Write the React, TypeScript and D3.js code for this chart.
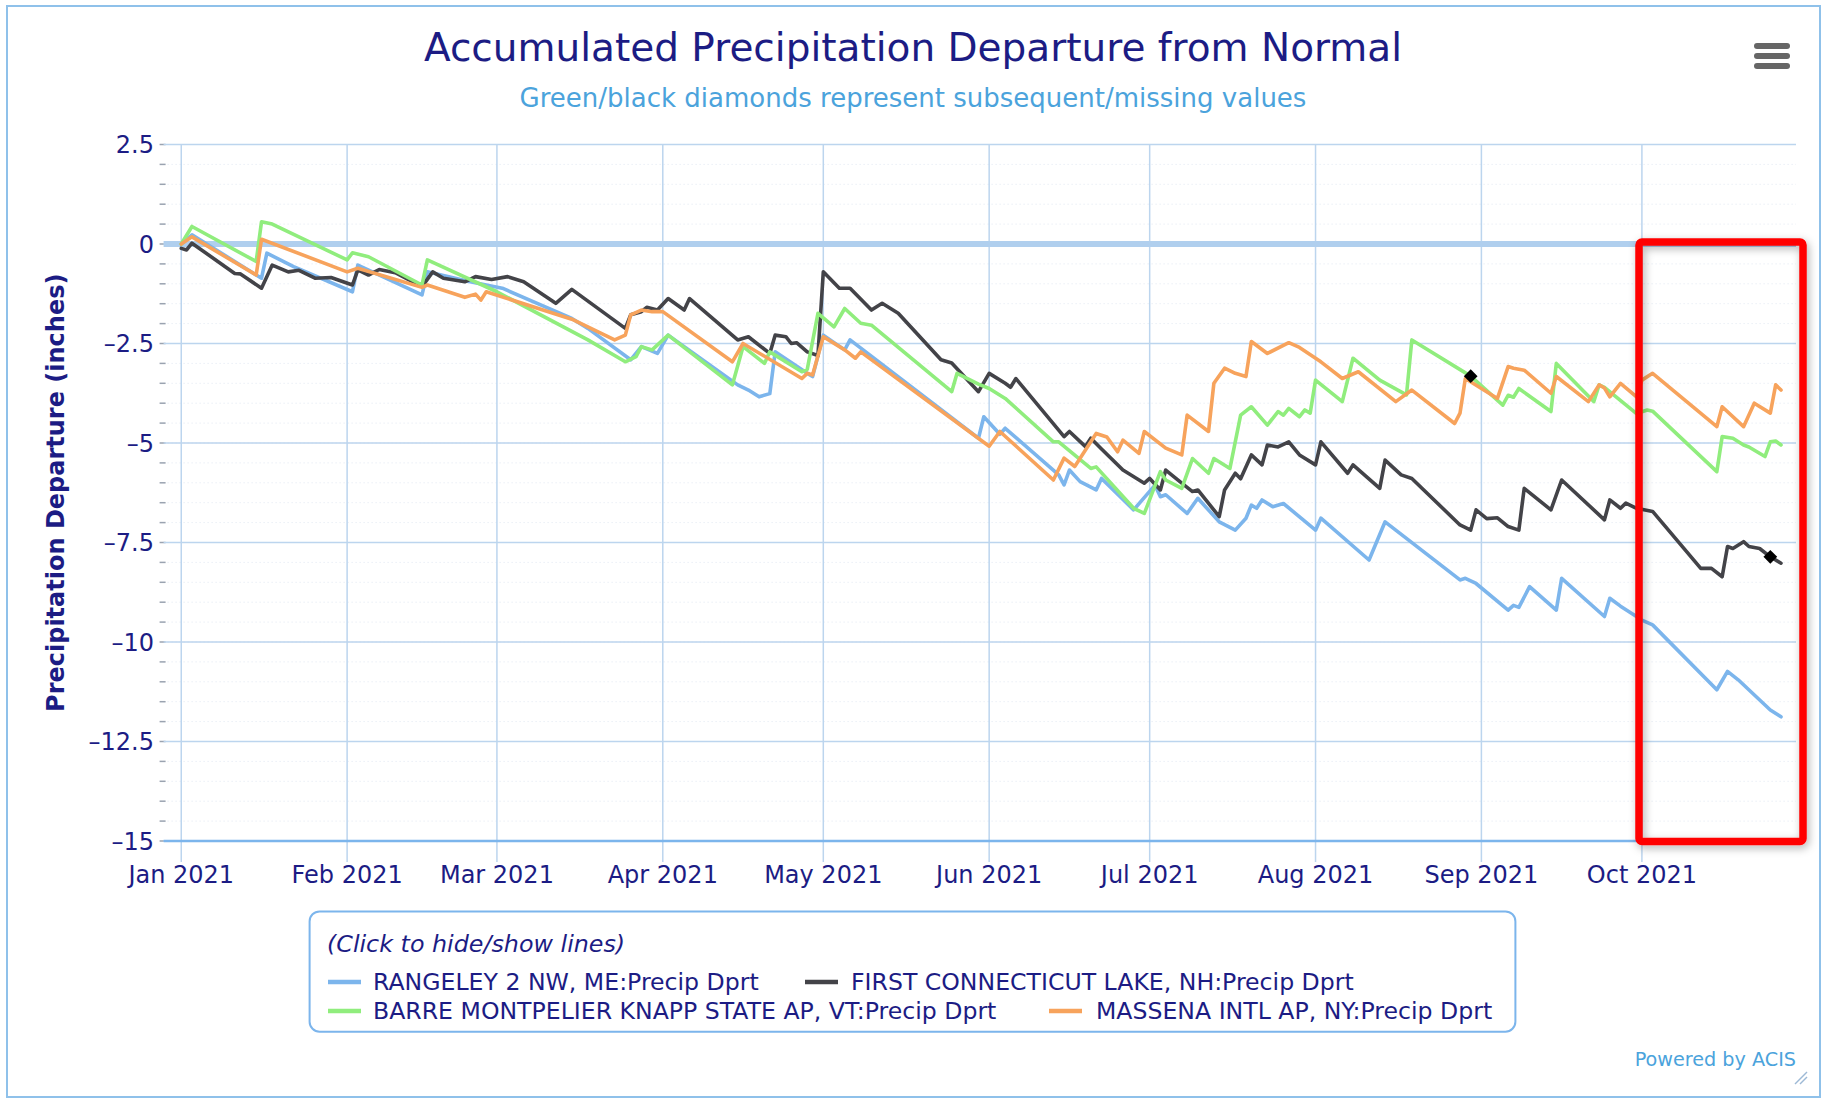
import React from 'react';
import * as d3 from 'd3';

// ---------- data ----------
const seriesNames = [
  'RANGELEY 2 NW, ME:Precip Dprt',
  'FIRST CONNECTICUT LAKE, NH:Precip Dprt',
  'BARRE MONTPELIER KNAPP STATE AP, VT:Precip Dprt',
  'MASSENA INTL AP, NY:Precip Dprt',
];
const seriesColors = ['#7cb5ec', '#434348', '#90ed7d', '#f7a35c'];

// [day offset from 2021-01-01, departure in inches]
const rangeley: [number, number][] = [
  [0, 0.0], [2, 0.23], [15, -0.86], [16, -0.23], [21, -0.57], [32, -1.2], [33, -0.53], [45, -1.28], [46, -0.7],
  [54, -0.95], [60, -1.11], [73, -1.87], [76, -2.12], [84, -2.91], [86, -2.58], [89, -2.75], [91, -2.29],
  [104, -3.54], [106, -3.67], [108, -3.84], [110, -3.76], [111, -2.71], [117, -3.25], [118, -3.33], [120, -2.29],
  [124, -2.66], [125, -2.41], [149, -4.88], [150, -4.34], [153, -4.78], [154, -4.63], [164, -5.8], [165, -6.05],
  [166, -5.68], [168, -5.97], [171, -6.18], [172, -5.89], [178, -6.68], [182, -6.06], [183, -6.35], [184, -6.3],
  [188, -6.77], [190, -6.39], [194, -6.98], [197, -7.19], [199, -6.89], [200, -6.56], [201, -6.64], [202, -6.43],
  [204, -6.6], [206, -6.52], [212, -7.19], [213, -6.89], [222, -7.94], [225, -6.98], [239, -8.44], [240, -8.4],
  [242, -8.53], [248, -9.2], [249, -9.08], [250, -9.13], [252, -8.61], [257, -9.2], [258, -8.4], [266, -9.36],
  [267, -8.9], [269, -9.1], [273, -9.45], [275, -9.57], [287, -11.2], [289, -10.74], [291, -10.95], [297, -11.71],
  [299, -11.88],
];
const connecticut: [number, number][] = [
  [0, -0.11], [1, -0.15], [2, 0.02], [10, -0.74], [11, -0.75], [15, -1.11], [17, -0.53], [20, -0.7], [22, -0.66],
  [25, -0.86], [28, -0.84], [32, -1.03], [33, -0.65], [35, -0.78], [37, -0.64], [40, -0.72], [45, -1.07],
  [47, -0.7], [49, -0.86], [53, -0.95], [55, -0.82], [58, -0.89], [61, -0.82], [64, -0.95], [70, -1.49],
  [73, -1.14], [83, -2.12], [84, -1.78], [86, -1.7], [87, -1.59], [89, -1.66], [91, -1.37], [94, -1.66],
  [95, -1.37], [104, -2.41], [106, -2.33], [110, -2.75], [111, -2.29], [113, -2.33], [114, -2.5], [115, -2.48],
  [117, -2.71], [119, -2.8], [120, -0.7], [123, -1.11], [125, -1.11], [129, -1.66], [131, -1.49], [134, -1.74],
  [142, -2.91], [144, -2.99], [149, -3.71], [151, -3.25], [154, -3.5], [155, -3.6], [156, -3.38], [165, -4.84],
  [166, -4.71], [169, -5.09], [170, -4.88], [172, -5.15], [176, -5.68], [180, -6.01], [181, -5.89], [183, -6.18],
  [184, -5.68], [187, -6.01], [189, -6.22], [190, -6.18], [194, -6.85], [195, -6.18], [197, -5.76], [198, -5.9],
  [200, -5.3], [202, -5.55], [203, -5.05], [205, -5.1], [207, -4.97], [209, -5.3], [212, -5.55], [213, -4.97],
  [218, -5.76], [219, -5.55], [224, -6.14], [225, -5.43], [228, -5.8], [230, -5.89], [239, -7.06], [241, -7.19],
  [242, -6.68], [244, -6.9], [246, -6.88], [248, -7.1], [250, -7.19], [251, -6.14], [256, -6.68], [258, -5.93],
  [266, -6.93], [267, -6.43], [269, -6.64], [270, -6.51], [272, -6.64], [275, -6.72], [284, -8.15], [286, -8.15],
  [288, -8.36], [289, -7.6], [290, -7.65], [292, -7.48], [293, -7.6], [295, -7.65], [297, -7.86], [299, -8.02],
];
const barre: [number, number][] = [
  [0, 0.0], [2, 0.44], [14, -0.44], [15, 0.56], [17, 0.5], [31, -0.4], [32, -0.22], [35, -0.32], [45, -1.03],
  [46, -0.4], [59, -1.2], [76, -2.41], [83, -2.96], [85, -2.83], [86, -2.58], [88, -2.66], [91, -2.29],
  [103, -3.54], [105, -2.58], [109, -3.0], [110, -2.71], [116, -3.21], [117, -3.15], [119, -1.74], [122, -2.08],
  [124, -1.62], [127, -1.99], [129, -2.04], [144, -3.71], [145, -3.25], [149, -3.52], [151, -3.63], [154, -3.88],
  [163, -4.97], [164, -4.97], [170, -5.64], [171, -5.6], [178, -6.64], [180, -6.77], [183, -5.72], [184, -5.93],
  [187, -6.14], [189, -5.39], [192, -5.76], [193, -5.39], [196, -5.64], [198, -4.3], [200, -4.09], [203, -4.55],
  [205, -4.21], [206, -4.3], [207, -4.13], [209, -4.34], [210, -4.17], [211, -4.25], [212, -3.42], [217, -3.96],
  [219, -2.87], [224, -3.42], [229, -3.79], [230, -2.41], [241, -3.32], [247, -4.05], [248, -3.8], [249, -3.85],
  [250, -3.63], [256, -4.21], [257, -3.0], [264, -3.96], [265, -3.54], [266, -3.6], [272, -4.26], [274, -4.17],
  [275, -4.2], [287, -5.72], [288, -4.84], [290, -4.88], [292, -5.05], [293, -5.1], [296, -5.34], [297, -4.97],
  [298, -4.95], [299, -5.05],
];
const massena: [number, number][] = [
  [0, 0.0], [2, 0.18], [14, -0.78], [15, 0.12], [31, -0.7], [33, -0.61], [45, -1.09], [46, -1.03], [53, -1.34],
  [55, -1.26], [56, -1.41], [57, -1.2], [73, -1.89], [81, -2.41], [83, -2.29], [84, -1.78], [86, -1.66],
  [88, -1.7], [90, -1.7], [103, -2.96], [105, -2.5], [116, -3.38], [117, -3.25], [118, -3.29], [120, -2.33],
  [124, -2.66], [126, -2.87], [127, -2.71], [151, -5.08], [153, -4.71], [163, -5.93], [165, -5.38], [167, -5.59],
  [171, -4.76], [173, -4.85], [175, -5.22], [176, -4.93], [179, -5.26], [180, -4.71], [184, -5.13], [187, -5.3],
  [188, -4.3], [192, -4.71], [193, -3.5], [195, -3.12], [197, -3.25], [199, -3.33], [200, -2.45], [203, -2.75],
  [207, -2.48], [209, -2.6], [213, -2.96], [217, -3.38], [220, -3.21], [227, -3.96], [230, -3.67], [238, -4.51],
  [239, -4.25], [240, -3.38], [246, -3.88], [248, -3.08], [249, -3.12], [251, -3.17], [256, -3.75], [257, -3.33],
  [263, -3.96], [265, -3.54], [266, -3.62], [267, -3.84], [269, -3.5], [272, -3.84], [273, -3.42], [275, -3.25],
  [287, -4.59], [288, -4.09], [292, -4.59], [294, -4.0], [297, -4.25], [298, -3.54], [299, -3.67],
];
const seriesData = [rangeley, connecticut, barre, massena];

// missing-value diamonds [day, value]
const diamonds: [number, number][] = [[241, -3.32], [297, -7.86]];

const yTicks = [2.5, 0, -2.5, -5, -7.5, -10, -12.5, -15];
const yMinorTicks = d3.range(2.5, -15.01, -0.5);

// ---------- layout ----------
const W = 1832;
const H = 1108;
const plotLeft = 163.6;
const plotRight = 1796;
const plotTop = 144.5;
const plotBottom = 841;
const NAVY = '#1c1c84';
const LIGHT = '#4ba3dc';
const FONT = 'DejaVu Sans';

const start = Date.UTC(2021, 0, 1);
const toDate = (d: number) => d3.utcDay.offset(new Date(start), d);

const x = d3
  .scaleUtc()
  .domain([new Date(start - 3.3 * 864e5), new Date(start + 301.8 * 864e5)])
  .range([plotLeft, plotRight]);
const y = d3.scaleLinear().domain([-15, 2.5]).range([plotBottom, plotTop]);
const monthTicks = d3.utcMonth.range(new Date(start), new Date(Date.UTC(2021, 10, 1)));
const fmt = d3.utcFormat('%b %Y');
const yFmt = (t: number) => (t < 0 ? '\u2013' + String(-t) : String(t));

const line = d3
  .line<[number, number]>()
  .x((p) => x(toDate(p[0])))
  .y((p) => y(p[1]));

const legendItems = [
  { idx: 0, sx: 328, tx: 373, row: 0 },
  { idx: 1, sx: 805, tx: 851, row: 0 },
  { idx: 2, sx: 328, tx: 373, row: 1 },
  { idx: 3, sx: 1049, tx: 1096, row: 1 },
];
const legendRowY = [982, 1011];

export default function App() {
  return (
    <svg
      width={W}
      height={H}
      style={{ position: 'absolute', left: 0, top: 0, background: '#fff' }}
      fontFamily={FONT}
    >
      <defs>
        <filter id="shadow" x="-20%" y="-10%" width="140%" height="120%">
          <feDropShadow dx="2" dy="3" stdDeviation="4" floodColor="#000" floodOpacity="0.3" />
        </filter>
      </defs>
      <rect x={0} y={0} width={W} height={H} fill="#fff" />
      <rect x={7} y={6} width={1813} height={1091} fill="#fff" stroke="#8fc1ea" strokeWidth={2} />

      {/* title */}
      <text x={913} y={61} textAnchor="middle" fontSize={39} fill={NAVY}>
        Accumulated Precipitation Departure from Normal
      </text>
      <text x={913} y={107} textAnchor="middle" fontSize={26} fill={LIGHT}>
        Green/black diamonds represent subsequent/missing values
      </text>

      {/* menu */}
      {[46, 56, 66].map((yy) => (
        <line key={yy} x1={1757} x2={1787} y1={yy} y2={yy} stroke="#666" strokeWidth={6} strokeLinecap="round" />
      ))}

      {/* minor grid */}
      {yMinorTicks.map((t) => (
        <g key={'m' + t}>
          <line x1={plotLeft} x2={plotRight} y1={y(t)} y2={y(t)} stroke="#dfe7f1" strokeWidth={1} strokeDasharray="1,3" />
          <line x1={plotLeft - 4} x2={plotLeft + 2} y1={y(t)} y2={y(t)} stroke="#9aa3b0" strokeWidth={1.5} />
        </g>
      ))}

      {/* vertical month grid */}
      {monthTicks.map((m) => (
        <line key={+m} x1={x(m)} x2={x(m)} y1={plotTop} y2={862} stroke="#bcd5ee" strokeWidth={1.5} />
      ))}

      {/* major horizontal grid */}
      {yTicks.map((t) => (
        <line key={'g' + t} x1={plotLeft} x2={plotRight} y1={y(t)} y2={y(t)} stroke="#bcd5ee" strokeWidth={1.5} />
      ))}
      <line x1={plotLeft} x2={plotRight} y1={y(0)} y2={y(0)} stroke="#b0cfee" strokeWidth={6} />
      <line x1={plotLeft} x2={plotRight} y1={y(-15)} y2={y(-15)} stroke="#7cb5ec" strokeWidth={2.5} />

      {/* y labels */}
      {yTicks.map((t) => (
        <text key={'yl' + t} x={154} y={y(t)} dy="0.36em" textAnchor="end" fontSize={24} fill={NAVY}>
          {yFmt(t)}
        </text>
      ))}
      {/* x labels */}
      {monthTicks.map((m) => (
        <text key={'xl' + +m} x={x(m)} y={883} textAnchor="middle" fontSize={24} fill={NAVY}>
          {fmt(m)}
        </text>
      ))}

      <text
        transform={`translate(55,${(plotTop + plotBottom) / 2}) rotate(-90)`}
        textAnchor="middle"
        dy="0.36em"
        fontSize={24}
        fontWeight="bold"
        fill={NAVY}
      >
        Precipitation Departure (inches)
      </text>

      {/* series */}
      {seriesData.map((s, i) => (
        <path
          key={i}
          d={line(s) || ''}
          fill="none"
          stroke={seriesColors[i]}
          strokeWidth={3.6}
          strokeLinejoin="round"
          strokeLinecap="round"
        />
      ))}
      {diamonds.map(([d, v], i) => (
        <path
          key={'dm' + i}
          d={d3.symbol(d3.symbolDiamond2, 120)() || ''}
          transform={`translate(${x(toDate(d))},${y(v)})`}
          fill="#000"
        />
      ))}

      {/* red annotation box */}
      <rect
        x={1639}
        y={242}
        width={164}
        height={599.5}
        rx={3}
        fill="none"
        stroke="#ff0000"
        strokeWidth={7.5}
        filter="url(#shadow)"
      />

      {/* legend */}
      <rect x={309.6} y={911.4} width={1205.8} height={120.3} rx={10} fill="none" stroke="#7cb5ec" strokeWidth={2} />
      <text x={327} y={952} fontSize={23.8} fontStyle="italic" fill={NAVY}>
        (Click to hide/show lines)
      </text>
      {legendItems.map((it) => (
        <g key={'lg' + it.idx}>
          <line
            x1={it.sx}
            x2={it.sx + 33}
            y1={legendRowY[it.row]}
            y2={legendRowY[it.row]}
            stroke={seriesColors[it.idx]}
            strokeWidth={4.5}
          />
          <text x={it.tx} y={legendRowY[it.row]} dy="0.36em" fontSize={23.6} fill={NAVY}>
            {seriesNames[it.idx]}
          </text>
        </g>
      ))}

      <text x={1796} y={1066} textAnchor="end" fontSize={19.2} fill={LIGHT}>
        Powered by ACIS
      </text>
      <g stroke="#9db9d6" strokeWidth={1.5}>
        <line x1={1795} y1={1084} x2={1807} y2={1072} />
        <line x1={1800} y1={1084} x2={1807} y2={1077} />
      </g>
    </svg>
  );
}
